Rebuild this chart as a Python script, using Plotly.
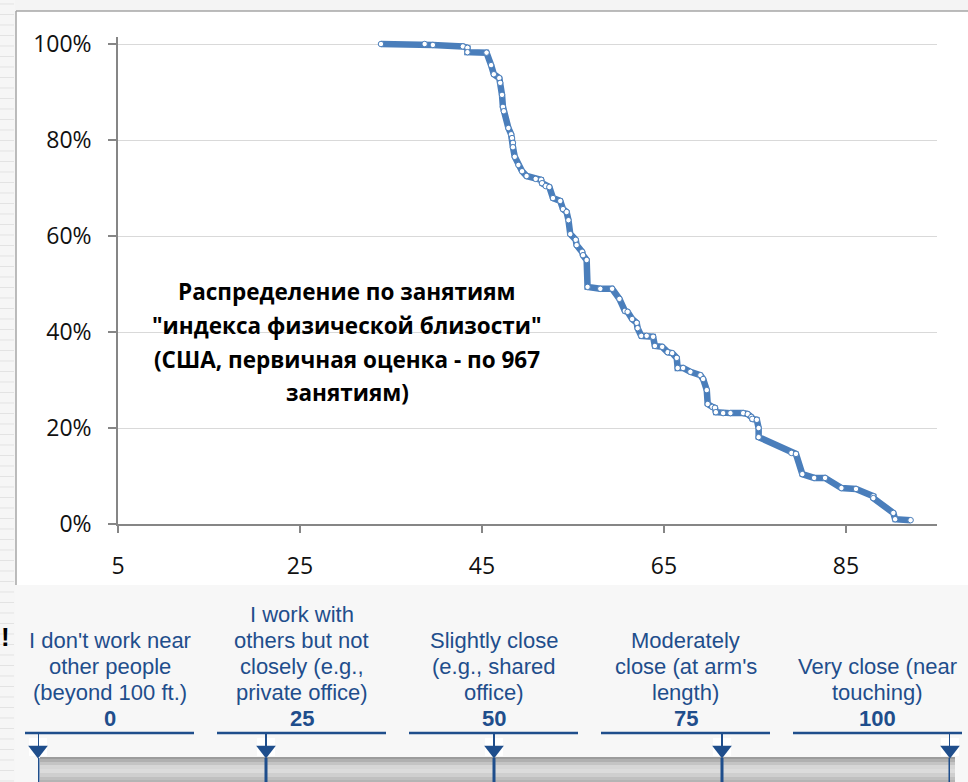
import plotly.graph_objects as go

W, H = 968, 782


def px(x):
    return x / W


def py(y):
    return 1 - y / H


# ---- data: physical proximity index (x) vs share of occupations (y, %) ----
proximity = [33.9, 38.7, 39.6, 42.9, 43.4, 43.4, 45.5, 46.0, 46.3, 46.9, 47.0, 47.2,
             47.3, 47.4, 47.9, 48.2, 48.3, 48.4, 48.4, 48.6, 49.0, 49.4, 49.9, 50.9,
             51.5, 51.6, 52.0, 52.4, 52.8, 53.6, 53.9, 54.3, 54.5, 54.7, 55.3, 55.4,
             56.0, 56.1, 56.5, 56.6, 58.0, 59.3, 60.1, 60.7, 61.0, 61.5, 62.0, 62.1,
             62.5, 63.1, 63.8, 64.0, 64.8, 65.4, 65.9, 66.4, 66.5, 67.1, 67.9, 69.0,
             69.3, 69.7, 69.8, 70.3, 70.6, 70.7, 71.5, 72.3, 73.7, 74.2, 74.6, 74.7,
             75.2, 75.4, 75.4, 79.0, 79.5, 80.2, 81.5, 82.7, 84.5, 86.1, 88.0, 88.0,
             90.2, 90.4, 92.1]
share_pct = [100.0, 100.0, 99.8, 99.5, 99.2, 98.3, 98.2, 95.6, 93.7, 92.9, 91.9, 89.4,
             86.9, 86.0, 82.5, 81.2, 80.4, 79.4, 78.5, 76.5, 74.8, 73.5, 72.5, 71.9,
             71.7, 71.0, 70.4, 70.2, 67.9, 67.3, 65.6, 65.0, 63.3, 60.4, 59.2, 58.1,
             56.7, 56.0, 55.0, 49.4, 49.0, 49.0, 46.9, 44.4, 44.2, 42.7, 41.9, 40.8,
             39.2, 39.2, 39.0, 37.1, 36.9, 35.8, 35.6, 34.6, 32.5, 32.5, 31.7, 31.0,
             30.2, 27.9, 25.0, 24.4, 24.2, 23.3, 23.1, 23.1, 23.1, 22.9, 22.3, 21.9,
             21.7, 20.0, 18.1, 14.8, 14.6, 10.4, 9.6, 9.6, 7.5, 7.3, 5.8, 5.4,
             2.3, 1.0, 0.8]
share = [v / 100 for v in share_pct]

x_ticks = [5, 25, 45, 65, 85]
y_ticks = [0, 0.2, 0.4, 0.6, 0.8, 1.0]

title_lines = ["Распределение по занятиям",
               "\"индекса физической близости\"",
               "(США, первичная оценка - по 967",
               "занятиям)"]

# ---- response scale shown under the chart ----
scale_values = [0, 25, 50, 75, 100]
scale_labels = [["I don't work near", "other people", "(beyond 100 ft.)"],
                ["I work with", "others but not", "closely (e.g.,", "private office)"],
                ["Slightly close", "(e.g., shared", "office)"],
                ["Moderately", "close (at arm's", "length)"],
                ["Very close (near", "touching)"]]

BLUE = "#4a7ebb"
NAVY = "#1f4e8c"

fig = go.Figure()

fig.add_trace(go.Scatter(
    x=proximity, y=share, mode="lines+markers",
    line=dict(color=BLUE, width=6.5),
    marker=dict(size=5.5, color="white", line=dict(color=BLUE, width=1)),
    xaxis="x", yaxis="y", hoverinfo="skip", showlegend=False))

# scale: stems, arrow heads and bar ticks (on their own axis 0..100)
stem_x, stem_y, bar_x, bar_y = [], [], [], []
for v in scale_values:
    stem_x += [v, v, None]
    stem_y += [733, 746, None]
    bar_x += [v, v, None]
    bar_y += [758, 782, None]

fig.add_trace(go.Scatter(x=scale_values, y=[747] * len(scale_values), mode="markers",
                         marker=dict(symbol="square", size=18, color="#ffffff",
                                     line=dict(width=0)),
                         cliponaxis=False,
                         xaxis="x2", yaxis="y2", hoverinfo="skip", showlegend=False))
fig.add_trace(go.Scatter(x=stem_x, y=stem_y, mode="lines",
                         line=dict(color=NAVY, width=2),
                         xaxis="x2", yaxis="y2", hoverinfo="skip", showlegend=False))
fig.add_trace(go.Scatter(x=scale_values, y=[750] * len(scale_values), mode="markers",
                         marker=dict(symbol="triangle-down", size=17, color=NAVY,
                                     line=dict(width=0)),
                         cliponaxis=False,
                         xaxis="x2", yaxis="y2", hoverinfo="skip", showlegend=False))

shapes = []
# background pieces
shapes.append(dict(type="rect", xref="paper", yref="paper", x0=px(16), x1=1,
                   y0=py(585), y1=py(11), fillcolor="white", line=dict(width=0),
                   layer="below"))
shapes.append(dict(type="rect", xref="paper", yref="paper", x0=0, x1=1,
                   y0=py(11), y1=1, fillcolor="#f4f4f4", line=dict(width=0),
                   layer="below"))
shapes.append(dict(type="rect", xref="paper", yref="paper", x0=0, x1=px(15),
                   y0=0, y1=1, fillcolor="#f6f6f6", line=dict(width=0),
                   layer="below"))
yy = 4
while yy < H:
    shapes.append(dict(type="line", xref="paper", yref="paper", x0=0, x1=px(14),
                       y0=py(yy), y1=py(yy), line=dict(color="#e3e3e3", width=1),
                       layer="below"))
    yy += 10.5
shapes.append(dict(type="line", xref="paper", yref="paper", x0=px(16), x1=px(16),
                   y0=py(585), y1=py(11), line=dict(color="#a6a6a6", width=1.5)))
shapes.append(dict(type="line", xref="paper", yref="paper", x0=px(16), x1=1,
                   y0=py(11), y1=py(11), line=dict(color="#a6a6a6", width=1.5)))

# grey cylinder bar
bands = [(757, 759, "#9c9c9c"), (759, 762, "#b0b0b0"), (762, 765, "#c4c4c4"),
         (765, 769, "#d6d6d6"), (769, 773, "#dcdcdc"), (773, 777, "#cfcfcf"),
         (777, 780, "#c0c0c0"), (780, 782, "#b4b4b4")]
for y0, y1, c in bands:
    shapes.append(dict(type="rect", xref="paper", yref="paper", x0=px(40), x1=px(955),
                       y0=py(y1), y1=py(y0), fillcolor=c, line=dict(width=0),
                       layer="below"))

# column underlines
col_starts = [25, 217, 409, 601, 793]
col_w = 169
for s in col_starts:
    shapes.append(dict(type="line", xref="paper", yref="paper", x0=px(s), x1=px(s + col_w),
                       y0=py(733), y1=py(733), line=dict(color=NAVY, width=2.5)))

fig.add_trace(go.Scatter(x=bar_x, y=bar_y, mode="lines",
                         line=dict(color=NAVY, width=3),
                         xaxis="x2", yaxis="y2", hoverinfo="skip", showlegend=False))

annotations = []
title_y = [291, 326, 360, 392]
for t, yv in zip(title_lines, title_y):
    annotations.append(dict(text="<b>" + t + "</b>", x=px(347), y=py(yv),
                            xref="paper", yref="paper", showarrow=False,
                            xanchor="center", yanchor="middle",
                            font=dict(family="Open Sans", size=22.5, color="#000000")))

for s, lines, v in zip(col_starts, scale_labels, scale_values):
    cx = px(s + col_w / 2)
    n = len(lines)
    for i, t in enumerate(lines):
        yv = 692 - 25.7 * (n - 1 - i)
        annotations.append(dict(text=t, x=cx, y=py(yv), xref="paper", yref="paper",
                                showarrow=False, xanchor="center", yanchor="middle",
                                font=dict(family="Liberation Sans", size=22, color=NAVY)))
    annotations.append(dict(text="<b>%d</b>" % v, x=cx, y=py(718), xref="paper",
                            yref="paper", showarrow=False, xanchor="center",
                            yanchor="middle",
                            font=dict(family="Liberation Sans", size=22, color=NAVY)))

annotations.append(dict(text="<b>!</b>", x=px(5), y=py(637), xref="paper", yref="paper",
                        showarrow=False, xanchor="center", yanchor="middle",
                        font=dict(family="Liberation Sans", size=26, color="#000000")))

y_top_px = 44 - 0.015 * 480
fig.update_layout(
    width=W, height=H,
    margin=dict(l=0, r=0, t=0, b=0, autoexpand=False),
    paper_bgcolor="#f7f7f7",
    plot_bgcolor="rgba(0,0,0,0)",
    shapes=shapes,
    annotations=annotations,
    showlegend=False,
    xaxis=dict(domain=[px(118), px(937)], range=[5, 95], tickvals=x_ticks,
               ticks="outside", ticklen=7, tickcolor="#868686", tickwidth=1.5,
               showline=True, linecolor="#868686", linewidth=1.5,
               showgrid=False, zeroline=False, anchor="y", automargin=False,
               ticklabelstandoff=14,
               tickfont=dict(family="Open Sans", size=23, color="#111111")),
    yaxis=dict(domain=[py(524), py(y_top_px)], range=[0, 1.015], tickvals=y_ticks,
               tickformat=".0%", ticks="outside", ticklen=8, tickcolor="#868686",
               tickwidth=1.5, showline=True, linecolor="#868686", linewidth=1.5,
               showgrid=True, gridcolor="#d9d9d9", gridwidth=1, zeroline=False,
               anchor="x", automargin=False, ticklabelstandoff=12,
               tickfont=dict(family="Open Sans", size=23, color="#111111")),
    xaxis2=dict(domain=[px(38), px(950)], range=[0, 100], visible=False,
                anchor="y2", fixedrange=True, automargin=False),
    yaxis2=dict(domain=[0, py(585)], range=[782, 585], visible=False,
                anchor="x2", fixedrange=True, automargin=False),
)

fig.write_html("out.html",
               config={"displayModeBar": False},
               post_script="document.body.style.margin='0';document.body.style.overflow='hidden';")
